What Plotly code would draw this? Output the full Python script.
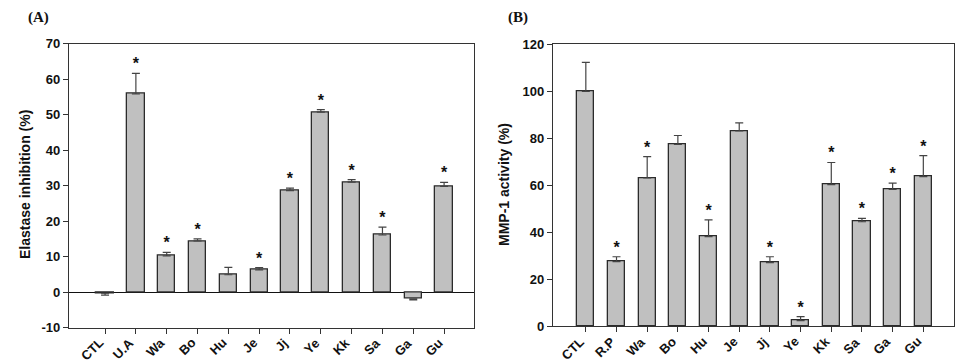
import plotly.graph_objects as go

# Panel A: Elastase inhibition
cats_a = ["CTL", "U.A", "Wa", "Bo", "Hu", "Je", "Jj", "Ye", "Kk", "Sa", "Ga", "Gu"]
vals_a = [-0.3, 55.8, 10.2, 14.4, 4.9, 6.3, 28.6, 50.7, 31.0, 16.1, -1.9, 29.8]
err_a = [0.55, 5.8, 1.0, 0.6, 2.1, 0.6, 0.7, 0.7, 0.7, 2.2, 0.25, 1.1]
star_a = [False, True, True, True, False, True, True, True, True, True, False, True]
yticks_a = [-10, 0, 10, 20, 30, 40, 50, 60, 70]

# Panel B: MMP-1 activity
cats_b = ["CTL", "R.P", "Wa", "Bo", "Hu", "Je", "Jj", "Ye", "Kk", "Sa", "Ga", "Gu"]
vals_b = [100.0, 27.5, 63.1, 77.4, 38.2, 83.1, 27.1, 2.4, 60.3, 44.5, 58.3, 63.7]
err_b = [12.3, 2.1, 9.1, 3.8, 7.1, 3.5, 2.5, 1.7, 9.4, 1.4, 2.6, 8.9]
star_b = [False, True, True, False, True, False, True, True, True, True, True, True]
yticks_b = [0, 20, 40, 60, 80, 100, 120]

BAR_FILL = "#c0c0c0"
EDGE = "#2b2b2b"
FONT = "Liberation Sans"

fig = go.Figure()


def add_panel(cats, vals, errs, stars, xa, ya, ybottom):
    xs = list(range(len(cats)))
    up = [e if v >= 0 else 0 for v, e in zip(vals, errs)]
    down = [e if v < 0 else 0 for v, e in zip(vals, errs)]
    fig.add_trace(go.Bar(
        x=xs, y=vals, width=0.56,
        marker=dict(color=BAR_FILL, line=dict(color=EDGE, width=1.3)),
        error_y=dict(type="data", symmetric=False, array=up, arrayminus=down,
                     color="#444444", thickness=1.2, width=4),
        xaxis=xa, yaxis=ya, showlegend=False, hoverinfo="skip"))
    sx = [x for x, s in zip(xs, stars) if s]
    sy = [v + e for v, e, s in zip(vals, errs, stars) if s]
    fig.add_trace(go.Scatter(
        x=sx, y=sy, mode="text", text=["<b>*</b>"] * len(sx),
        textposition="top center",
        textfont=dict(family=FONT, size=16, color="#111111"),
        xaxis=xa, yaxis=ya, showlegend=False, hoverinfo="skip"))
    # rotated category labels
    for x, c in zip(xs, cats):
        fig.add_annotation(text="<b>%s</b>" % c, x=x, xref=xa,
                           y=ybottom, yref="paper", showarrow=False,
                           textangle=-45, xanchor="right", yanchor="top",
                           xshift=4, yshift=-5,
                           font=dict(family=FONT, size=13, color="#111111"))


yb_a = (362 - 327.7) / 362
yb_b = (362 - 326.3) / 362
add_panel(cats_a, vals_a, err_a, star_a, "x", "y", yb_a)
add_panel(cats_b, vals_b, err_b, star_b, "x2", "y2", yb_b)

tickfont = dict(family=FONT, size=13, color="#111111", weight="bold")
axis_common = dict(showline=True, linecolor="#333333", linewidth=1.2, mirror=True,
                   ticks="outside", ticklen=5, tickcolor="#333333", showgrid=False,
                   tickfont=tickfont, automargin=False)

fig.update_layout(
    width=971, height=362,
    margin=dict(l=0, r=0, t=0, b=0),
    paper_bgcolor="white", plot_bgcolor="white",
    bargap=0,
    xaxis=dict(domain=[69 / 971, 474 / 971], anchor="y", range=[-1.17, 11.97],
               tickmode="array", tickvals=list(range(12)), showticklabels=False,
               zeroline=False, **axis_common),
    yaxis=dict(domain=[yb_a, (362 - 43.5) / 362], anchor="x",
               range=[-10, 70], tickmode="array", tickvals=yticks_a,
               ticktext=[str(t) for t in yticks_a],
               zeroline=True, zerolinecolor="#111111", zerolinewidth=1.2,
               **axis_common),
    xaxis2=dict(domain=[553 / 971, 954 / 971], anchor="y2", range=[-1.07, 12.0],
                tickmode="array", tickvals=list(range(12)), showticklabels=False,
                zeroline=False, **axis_common),
    yaxis2=dict(domain=[yb_b, (362 - 44.3) / 362], anchor="x2",
                range=[0, 120], tickmode="array", tickvals=yticks_b,
                ticktext=[str(t) for t in yticks_b],
                zeroline=False, **axis_common),
    font=dict(family=FONT, color="#111111"),
)

ann = [
    dict(text="<b>Elastase inhibition (%)</b>", x=25, y=185, textangle=-90,
         font=dict(family=FONT, size=14, color="#111111")),
    dict(text="<b>MMP-1 activity (%)</b>", x=504, y=185, textangle=-90,
         font=dict(family=FONT, size=14, color="#111111")),
    dict(text="<b>(A)</b>", x=38, y=18,
         font=dict(family="Liberation Serif", size=15, color="#111111")),
    dict(text="<b>(B)</b>", x=518, y=18,
         font=dict(family="Liberation Serif", size=15, color="#111111")),
]
for a in ann:
    fig.add_annotation(text=a["text"], x=a["x"] / 971, y=1 - a["y"] / 362,
                       xref="paper", yref="paper", showarrow=False,
                       textangle=a.get("textangle", 0), font=a["font"],
                       xanchor="center", yanchor="middle")

fig.write_html("out.html", config={"displayModeBar": False},
               post_script="document.body.style.margin='0';document.body.style.overflow='hidden';")
